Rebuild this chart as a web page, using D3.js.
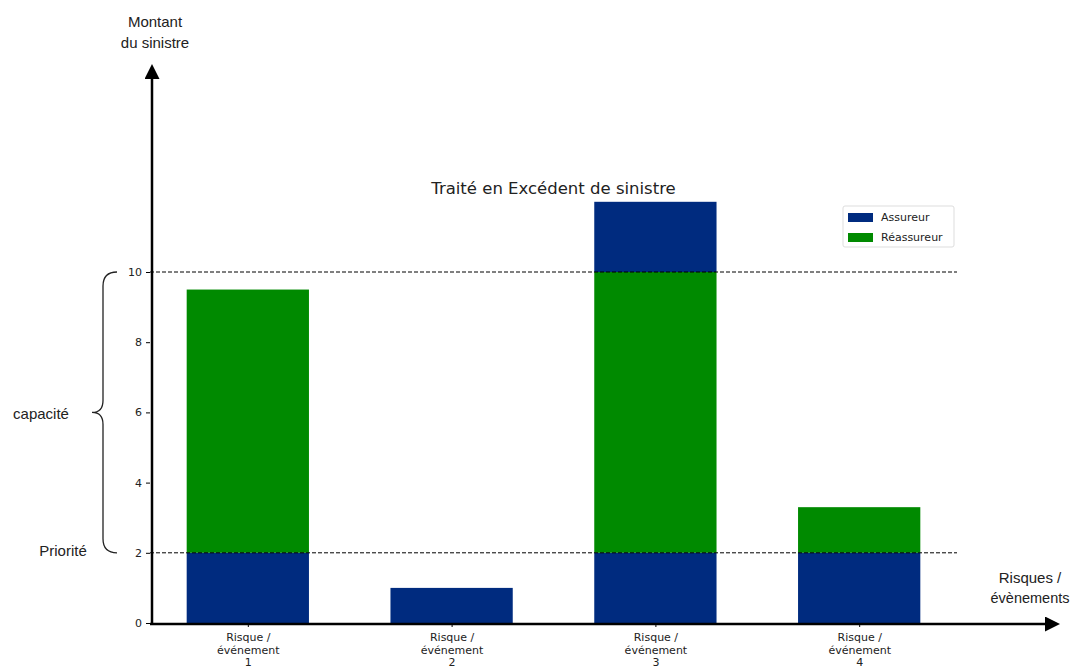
<!DOCTYPE html>
<html lang="fr">
  <head>
    <meta charset="utf-8" />
    <title>Traité en Excédent de sinistre</title>
    <script src="https://cdn.jsdelivr.net/npm/d3@7"></script>
    <style>
      body { margin: 0; background: #fff; }
      .tick text { font-family: "DejaVu Sans", sans-serif; font-size: 11px; fill: #222; }
      .note { font-family: "Liberation Sans", Arial, sans-serif; font-size: 15px; fill: #222; }
    </style>
  </head>
  <body>
    <script>
      // donnees
      var categories = [["Risque /", "événement", "1"], ["Risque /", "événement", "2"], ["Risque /", "événement", "3"], ["Risque /", "événement", "4"]];
      var assureurBas = [2, 1, 2, 2];
      var reassureur = [7.5, 0, 8, 1.3];
      var assureurHaut = [0, 0, 2, 0];
      var yTicks = [0, 2, 4, 6, 8, 10];
      var priorite = 2;
      var limite = 10;

      var w = 1071, h = 668;
      var left = 150, right = 957, bottom = 623;
      var blue = "#002b7f", green = "#008a00";

      var svg = d3.select("body").append("svg").attr("width", w).attr("height", h);

      var x = d3.scaleLinear().domain([-0.48, 3.48]).range([left, right]);
      var y = d3.scaleLinear().domain([0, 10]).range([bottom, 272]);
      var barW = x(0.6) - x(0);

      var rows = categories.map(function (c, i) {
        return { i: i, bas: assureurBas[i], reas: reassureur[i], haut: assureurHaut[i] };
      });
      var stack = d3.stack().keys(["bas", "reas", "haut"])(rows);
      var colors = { bas: blue, reas: green, haut: blue };

      svg.selectAll("g.serie")
        .data(stack)
        .enter()
        .append("g")
        .attr("class", "serie")
        .attr("fill", function (d) { return colors[d.key]; })
        .selectAll("rect")
        .data(function (d) { return d; })
        .enter()
        .append("rect")
        .attr("x", function (d, i) { return x(i) - barW / 2; })
        .attr("y", function (d) { return y(d[1]); })
        .attr("width", barW)
        .attr("height", function (d) { return y(d[0]) - y(d[1]); });

      // lignes priorite / limite
      svg.selectAll("line.seuil")
        .data([priorite, limite])
        .enter()
        .append("line")
        .attr("x1", left).attr("x2", right)
        .attr("y1", function (d) { return y(d); })
        .attr("y2", function (d) { return y(d); })
        .attr("stroke", "#000")
        .attr("stroke-width", 1)
        .attr("stroke-dasharray", "4,2");

      // axes
      var yAxis = svg.append("g")
        .attr("transform", "translate(" + left + ",0)")
        .call(d3.axisLeft(y).tickValues(yTicks).tickSize(4).tickPadding(4));
      yAxis.select(".domain").remove();

      var xAxis = svg.append("g")
        .attr("transform", "translate(0," + bottom + ")")
        .call(d3.axisBottom(x).tickValues(d3.range(categories.length)).tickSize(4).tickFormat(""));
      xAxis.select(".domain").remove();
      xAxis.selectAll(".tick").each(function (d) {
        var t = d3.select(this).append("text").attr("fill", "#222").attr("text-anchor", "middle");
        categories[d].forEach(function (s, k) {
          t.append("tspan").attr("x", 0).attr("y", 18 + k * 12.5).text(s);
        });
      });

      // fleches
      var defs = svg.append("defs");
      defs.append("marker")
        .attr("id", "fleche")
        .attr("viewBox", "0 0 10 10")
        .attr("refX", 2).attr("refY", 5)
        .attr("markerWidth", 6).attr("markerHeight", 6)
        .attr("markerUnits", "strokeWidth")
        .attr("orient", "auto")
        .append("path")
        .attr("d", "M0,0 L10,5 L0,10 z")
        .attr("fill", "#000");

      svg.append("line")
        .attr("x1", left + 2).attr("y1", bottom + 1)
        .attr("x2", left + 2).attr("y2", 76)
        .attr("stroke", "#000").attr("stroke-width", 2.5)
        .attr("marker-end", "url(#fleche)");
      svg.append("line")
        .attr("x1", left).attr("y1", bottom + 1)
        .attr("x2", 1048).attr("y2", bottom + 1)
        .attr("stroke", "#000").attr("stroke-width", 2.5)
        .attr("marker-end", "url(#fleche)");

      // titre
      svg.append("text")
        .attr("x", (left + right) / 2).attr("y", 194)
        .attr("text-anchor", "middle")
        .attr("font-family", "DejaVu Sans, sans-serif")
        .attr("font-size", 16.5)
        .attr("fill", "#222")
        .text("Traité en Excédent de sinistre");

      // legende
      var leg = svg.append("g").attr("transform", "translate(843,206)");
      leg.append("rect").attr("width", 111).attr("height", 41).attr("rx", 2)
        .attr("fill", "#fff").attr("stroke", "#ddd");
      [["Assureur", blue], ["Réassureur", green]].forEach(function (e, k) {
        leg.append("rect").attr("x", 5).attr("y", 7 + k * 20).attr("width", 25).attr("height", 9).attr("fill", e[1]);
        leg.append("text").attr("x", 38).attr("y", 15 + k * 20)
          .attr("font-family", "DejaVu Sans, sans-serif").attr("font-size", 11).attr("fill", "#222")
          .text(e[0]);
      });

      // annotations
      svg.append("text").attr("class", "note").attr("x", 155).attr("y", 27).attr("text-anchor", "middle").text("Montant");
      svg.append("text").attr("class", "note").attr("x", 155).attr("y", 48).attr("text-anchor", "middle").text("du sinistre");
      svg.append("text").attr("class", "note").attr("x", 1030).attr("y", 583).attr("text-anchor", "middle").text("Risques /");
      svg.append("text").attr("class", "note").attr("x", 1030).attr("y", 603).attr("text-anchor", "middle")
        .style("font-size", "14.5px").text("évènements");
      svg.append("text").attr("class", "note").attr("x", 41).attr("y", 419).attr("text-anchor", "middle").text("capacité");
      svg.append("text").attr("class", "note").attr("x", 63).attr("y", 556).attr("text-anchor", "middle").text("Priorité");

      // accolade
      var yt = y(limite), yb = y(priorite), ym = (yt + yb) / 2;
      var bx = 103;
      svg.append("path")
        .attr("d",
          "M117," + yt + " Q" + bx + "," + yt + " " + bx + "," + (yt + 14) +
          " L" + bx + "," + (ym - 12) +
          " Q" + bx + "," + ym + " " + (bx - 11) + "," + ym +
          " Q" + bx + "," + ym + " " + bx + "," + (ym + 12) +
          " L" + bx + "," + (yb - 14) +
          " Q" + bx + "," + yb + " 117," + yb)
        .attr("fill", "none").attr("stroke", "#222").attr("stroke-width", 1.3);
    </script>
  </body>
</html>
